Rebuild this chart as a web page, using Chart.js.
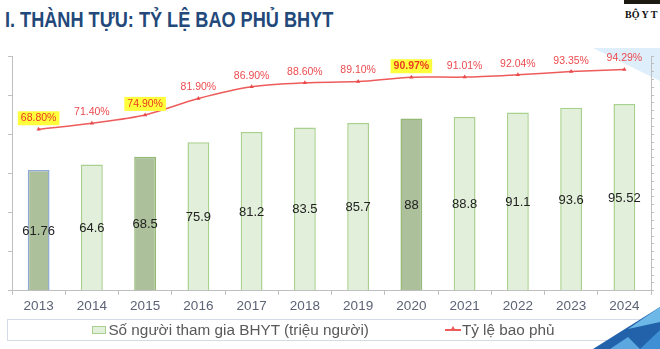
<!DOCTYPE html>
<html>
<head>
<meta charset="utf-8">
<script src="https://cdn.jsdelivr.net/npm/chart.js@4"></script>
<style>
  body { margin: 0; background: #fff; }
  #wrap { position: relative; width: 660px; height: 349px; overflow: hidden; background: #fff; }
  #title {
    position: absolute; left: 5px; top: 7px;
    font-family: "Liberation Sans", Arial, sans-serif;
    font-weight: bold; font-size: 22px; color: #23487a; white-space: nowrap;
    transform-origin: 0 0;
  }
  #logo-bar { position: absolute; left: 624px; top: 0; width: 36px; height: 4px; background: #1a1a10; }
  #logo { position: absolute; left: 625px; top: 9px; font-family: "Liberation Serif", serif; font-weight: bold; font-size: 10px; color: #111; }
  #chart { position: absolute; left: 0; top: 0; }
  .decor { position: absolute; left: 0; top: 0; width: 660px; height: 349px; }
  #legend {
    position: absolute; left: 7px; top: 319px; width: 633px; height: 22px;
    border: 1px solid #d5dbe6; box-sizing: border-box;
    display: flex; justify-content: center; align-items: center; gap: 76px;
    font-family: "Liberation Sans", Arial, sans-serif; font-size: 15.3px; color: #595959;
  }
  .item { display: flex; align-items: center; }
  .swatch-bar { width: 12px; height: 6px; border: 1px solid #a9d18e; background: #e2efda; margin-right: 2px; }
  .swatch-line { position: relative; width: 16px; height: 2px; background: #ee5b5b; margin-right: 1px; }
  .swatch-line::after {
    content: ""; position: absolute; left: 5px; top: -3px;
    border-left: 3px solid transparent; border-right: 3px solid transparent; border-bottom: 5px solid #ee5b5b;
  }
</style>
</head>
<body>
<div id="wrap">
  <svg class="decor" viewBox="0 0 660 349">
    <polygon points="593,48 660,48 660,81" fill="#deeefa"/>
  </svg>
  <div id="title">I. THÀNH TỰU: TỶ LỆ BAO PHỦ BHYT</div>
  <div id="logo-bar"></div>
  <div id="logo">BỘ Y T</div>
  <canvas id="chart" width="660" height="349"></canvas>
  <div id="legend"></div>
  <svg class="decor" viewBox="0 0 660 349">
    <polygon points="593,349 660,307 660,349" fill="#2262ab"/>
    <polygon points="628,329 660,307 660,322" fill="#6db8e6"/>
    <polygon points="640,349 660,330 660,349" fill="#3f8fd4"/>
    <polygon points="610,349 628,337 640,349" fill="#5aa8df"/>
  </svg>
</div>
<script>
const years = ["2013", "2014", "2015", "2016", "2017", "2018", "2019", "2020", "2021", "2022", "2023", "2024"];
const participants = [61.76, 64.6, 68.5, 75.9, 81.2, 83.5, 85.7, 88, 88.8, 91.1, 93.6, 95.52];
const coverage = [68.8, 71.4, 74.9, 81.9, 86.9, 88.6, 89.1, 90.97, 91.01, 92.04, 93.35, 94.29];
const highlightYears = ["2013", "2015", "2020"];
const seriesNames = ["Số người tham gia BHYT (triệu người)", "Tỷ lệ bao phủ"];

const font = '"Liberation Sans", Arial, sans-serif';
const axisGrey = "#bfbfbf";

// squeeze the title to the narrow width of the slide heading
var title = document.getElementById("title");
title.style.transform = "scaleX(" + (328 / title.offsetWidth) + ")";

var barFill = years.map(function (y) { return highlightYears.includes(y) ? "#adc09c" : "#e2efda"; });
var barBorder = years.map(function (y) {
  if (y === "2013") return "#8fa9d6";
  return highlightYears.includes(y) ? "#93b775" : "#a9d18e";
});

// labels on bars and above the line points
const valueLabels = {
  id: "valueLabels",
  afterDatasetsDraw(chart) {
    const ctx = chart.ctx;
    ctx.save();
    ctx.textAlign = "center";
    ctx.textBaseline = "middle";

    ctx.font = "13px " + font;
    ctx.fillStyle = "#222";
    chart.getDatasetMeta(0).data.forEach(function (bar, i) {
      const p = bar.getProps(["x", "y", "base"], true);
      ctx.fillText(String(participants[i]), p.x, (p.y + p.base) / 2 + 1);
    });

    chart.getDatasetMeta(1).data.forEach(function (pt, i) {
      const hl = highlightYears.includes(years[i]);
      const text = coverage[i].toFixed(2) + "%";
      ctx.font = (years[i] === "2020" ? "bold " : "") + "10.5px " + font;
      const y = pt.y - 11;
      if (hl) {
        const w = ctx.measureText(text).width;
        ctx.fillStyle = "#ffff3b";
        ctx.fillRect(pt.x - w / 2 - 3, y - 7, w + 6, 14);
      }
      ctx.fillStyle = hl ? "#ea3a22" : "#ec4b4f";
      ctx.fillText(text, pt.x, y);
    });
    ctx.restore();
  }
};

var ctx = document.getElementById("chart");
var myChart = new Chart(ctx, {
  type: "bar",
  data: {
    labels: years,
    datasets: [
      {
        label: seriesNames[0],
        data: participants,
        backgroundColor: barFill,
        borderColor: barBorder,
        borderWidth: 1.5,
        barPercentage: 0.41,
        categoryPercentage: 1,
        yAxisID: "y",
        order: 1,
      },
      {
        type: "line",
        label: seriesNames[1],
        data: coverage,
        borderColor: "#ee5b5b",
        backgroundColor: "#e84a4a",
        borderWidth: 1.5,
        tension: 0.3,
        pointStyle: "triangle",
        pointRadius: 2.5,
        pointBorderWidth: 0,
        yAxisID: "y1",
        order: 0,
      },
    ],
  },
  options: {
    responsive: false,
    animation: false,
    layout: { padding: { left: 8, right: 6, top: 56, bottom: 32 } },
    plugins: {
      legend: { display: false },
      tooltip: { enabled: false },
    },
    scales: {
      x: {
        grid: { color: "transparent", tickColor: axisGrey, tickLength: 4 },
        border: { color: axisGrey },
        ticks: { color: "#5b6375", font: { family: font, size: 13.5 }, padding: 3 },
      },
      y: {
        min: 0,
        max: 120,
        ticks: { display: false, stepSize: 20 },
        grid: { color: "transparent", tickColor: axisGrey, tickLength: 4 },
        border: { color: axisGrey },
      },
      y1: {
        position: "right",
        min: 0,
        max: 100,
        ticks: { display: false, stepSize: 100 / 30 },
        grid: { drawOnChartArea: false, tickColor: axisGrey, tickLength: 3 },
        border: { color: axisGrey },
      },
    },
  },
  plugins: [valueLabels],
});

// legend built from the datasets
var legend = document.getElementById("legend");
myChart.data.datasets.forEach(function (ds, i) {
  var item = document.createElement("div");
  item.className = "item";
  var sw = document.createElement("span");
  sw.className = i === 0 ? "swatch-bar" : "swatch-line";
  var txt = document.createElement("span");
  txt.textContent = ds.label;
  item.appendChild(sw);
  item.appendChild(txt);
  legend.appendChild(item);
});
</script>
</body>
</html>
